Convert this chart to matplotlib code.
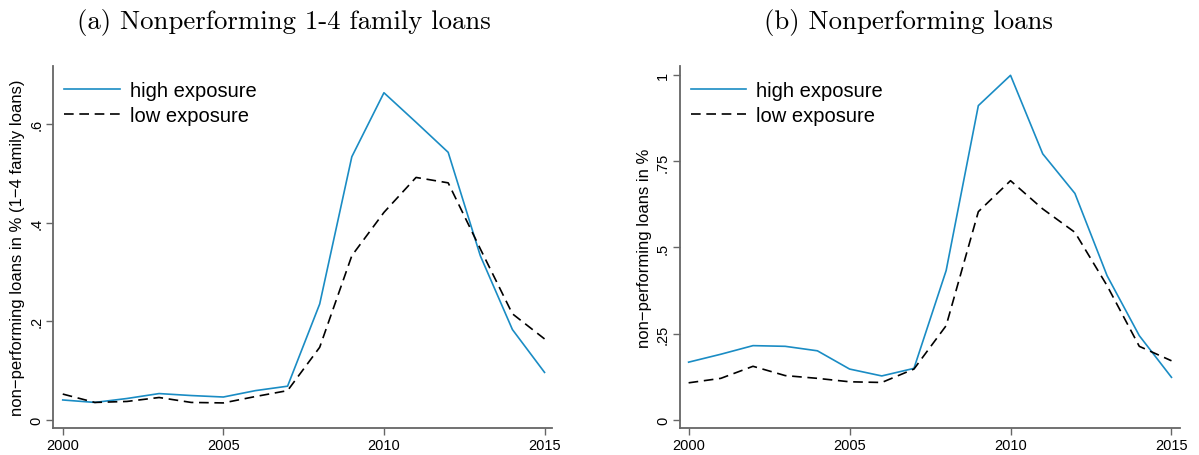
import numpy as np
import matplotlib
matplotlib.use("Agg")
import matplotlib.pyplot as plt
from matplotlib.lines import Line2D

# yearly averages by exposure group
years = list(range(2000, 2016))

# (a) nonperforming 1-4 family loans, in %
fam_high = [0.040, 0.035, 0.043, 0.053, 0.049, 0.046, 0.059, 0.068,
            0.235, 0.534, 0.664, 0.604, 0.543, 0.333, 0.183, 0.096]
fam_low = [0.052, 0.035, 0.037, 0.045, 0.035, 0.034, 0.047, 0.059,
           0.147, 0.333, 0.421, 0.492, 0.481, 0.347, 0.215, 0.164]

# (b) all nonperforming loans, in %
npl_high = [0.167, 0.190, 0.215, 0.213, 0.200, 0.147, 0.127, 0.149,
            0.433, 0.912, 1.000, 0.772, 0.657, 0.418, 0.244, 0.123]
npl_low = [0.107, 0.120, 0.155, 0.128, 0.120, 0.110, 0.108, 0.147,
           0.273, 0.604, 0.694, 0.612, 0.544, 0.389, 0.213, 0.171]

xticks = [2000, 2005, 2010, 2015]
yticks_a = [0, 0.2, 0.4, 0.6]
ylabels_a = ["0", ".2", ".4", ".6"]
yticks_b = [0, 0.25, 0.5, 0.75, 1]
ylabels_b = ["0", ".25", ".5", ".75", "1"]

blue = "#1a8cc4"
spine_col = "#666666"
sans = "Liberation Sans"
dash = (0, (5.8, 3.4))

fig = plt.figure(figsize=(11.99, 4.56), dpi=100)
ax1 = fig.add_axes([0.0444, 0.0586, 0.4160, 0.7952])
ax2 = fig.add_axes([0.5670, 0.0586, 0.4170, 0.7952])


def panel(ax, high, low, yt, yl, ylab, ylim, xlim):
    ax.plot(years, high, color=blue, lw=1.2)
    ax.plot(years, low, color="black", lw=1.2, ls=dash)
    ax.set_xlim(*xlim)
    ax.set_ylim(*ylim)
    ax.set_xticks(xticks)
    ax.set_xticklabels([str(x) for x in xticks], fontname=sans, fontsize=10.5)
    ax.set_yticks(yt)
    ax.set_yticklabels(yl, fontname=sans, fontsize=10.5, rotation=90, va="center")
    ax.set_ylabel(ylab, fontname=sans, fontsize=12, labelpad=3)
    for s in ["top", "right"]:
        ax.spines[s].set_visible(False)
    for s in ["left", "bottom"]:
        ax.spines[s].set_color(spine_col)
        ax.spines[s].set_linewidth(1.3)
    ax.tick_params(length=5, width=1, color=spine_col, pad=2)
    handles = [Line2D([], [], color=blue, lw=1.2),
               Line2D([], [], color="black", lw=1.2, ls=dash)]
    leg = ax.legend(handles, ["high exposure", "low exposure"], loc="upper left",
                    bbox_to_anchor=(0.022, 0.958), frameon=False, handlelength=2.75,
                    handletextpad=0.5, labelspacing=0.3, borderaxespad=0.0,
                    borderpad=0.0, prop={"family": sans, "size": 14.5})
    return leg


panel(ax1, fam_high, fam_low, yticks_a, ylabels_a,
      "non\u2212performing loans in % (1\u22124 family loans)",
      (-0.0175, 0.719), (1999.704, 2015.233))
panel(ax2, npl_high, npl_low, yticks_b, ylabels_b,
      "non\u2212performing loans in %",
      (-0.025, 1.028), (1999.727, 2015.259))

fig.text(0.2370, 0.950, "(a) Nonperforming 1-4 family loans", ha="center",
         va="center", fontname="cmr10", fontsize=19.3)
fig.text(0.7577, 0.950, "(b) Nonperforming loans", ha="center",
         va="center", fontname="cmr10", fontsize=19.3)

fig.savefig("out.png", dpi=100)
